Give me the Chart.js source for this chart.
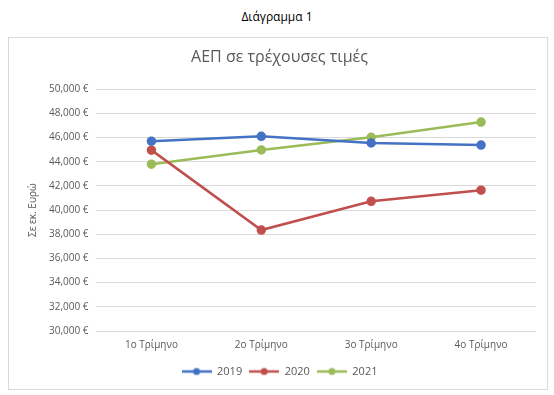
<!DOCTYPE html>
<html><head><meta charset="utf-8">
<script src="https://cdn.jsdelivr.net/npm/chart.js@4"></script>
<style>
html,body{margin:0;padding:0;background:#fff;width:554px;height:395px;overflow:hidden;font-family:"Open Sans","Noto Sans",sans-serif;}
#top{position:absolute;left:0;top:8px;width:554px;text-align:center;font-size:12px;color:#000;font-family:"Open Sans",sans-serif;}
#box{position:absolute;left:8px;top:37px;width:538px;height:351px;border:1px solid #d9d9d9;}
canvas{display:block;}
</style></head><body>
<div id="top">Διάγραμμα 1</div>
<div id="box"><canvas id="c" width="538" height="351"></canvas></div>
<script>
const categories = ["1ο Τρίμηνο","2ο Τρίμηνο","3ο Τρίμηνο","4ο Τρίμηνο"];
const seriesNames = ["2019","2020","2021"];
const values2019 = [45700, 46100, 45550, 45380];
const values2020 = [44960, 38350, 40730, 41650];
const values2021 = [43800, 44980, 46020, 47280];
const yTicks = {min: 30000, max: 50000, step: 2000};
const colors = ["#4472C4","#C0504D","#9BBB59"];

function legendIcon(color){
  const cv = document.createElement('canvas');
  cv.width = 30; cv.height = 10;
  const g = cv.getContext('2d');
  g.strokeStyle = color; g.lineWidth = 2.5;
  g.beginPath(); g.moveTo(0,5); g.lineTo(30,5); g.stroke();
  g.fillStyle = color; g.beginPath(); g.arc(15,5,3.5,0,Math.PI*2); g.fill();
  return cv;
}
const allValues = [values2019, values2020, values2021];
const datasets = seriesNames.map((n,i)=>({
  label:n, data:allValues[i], borderColor:colors[i], backgroundColor:colors[i],
  borderWidth:2.5, pointRadius:3.5, pointHoverRadius:3.5, tension:0,
  pointStyle:'circle'
}));
const fmt = v => v.toLocaleString('en-US') + ' €';
new Chart(document.getElementById('c'), {
  type:'line',
  data:{labels:categories, datasets},
  options:{
    responsive:false, animation:false,
    layout:{padding:{left:14,right:11,top:4,bottom:2}},
    plugins:{
      title:{display:true, text:'ΑΕΠ σε τρέχουσες τιμές', color:'#595959',
        font:{family:'"Open Sans"', size:16, weight:'normal'}, padding:{top:6,bottom:22}},
      legend:{position:'bottom', labels:{
        usePointStyle:true, pointStyleWidth:30, boxHeight:10, color:'#595959', font:{family:'"Open Sans"', size:11}, padding:7,
        generateLabels(chart){
          return chart.data.datasets.map((d,i)=>({text:d.label, pointStyle:legendIcon(d.borderColor),
            fillStyle:d.borderColor, strokeStyle:d.borderColor, lineWidth:0, datasetIndex:i, fontColor:'#595959'}));
        }}},
      tooltip:{enabled:false}
    },
    scales:{
      x:{offset:true, grid:{display:false, drawTicks:false}, border:{display:false},
        ticks:{color:'#595959', font:{family:'"Open Sans"', size:10}, padding:8}},
      y:{min:yTicks.min, max:yTicks.max,
        ticks:{stepSize:yTicks.step, callback:fmt, color:'#595959', font:{family:'"Open Sans"', size:10}, padding:8},
        grid:{color:'#d9d9d9', drawTicks:false}, border:{display:false},
        title:{display:true, text:'Σε εκ. Ευρώ', color:'#595959', font:{family:'"Open Sans"', size:10}, padding:{bottom:2}}}
    }
  }
});
</script>
</body></html>
